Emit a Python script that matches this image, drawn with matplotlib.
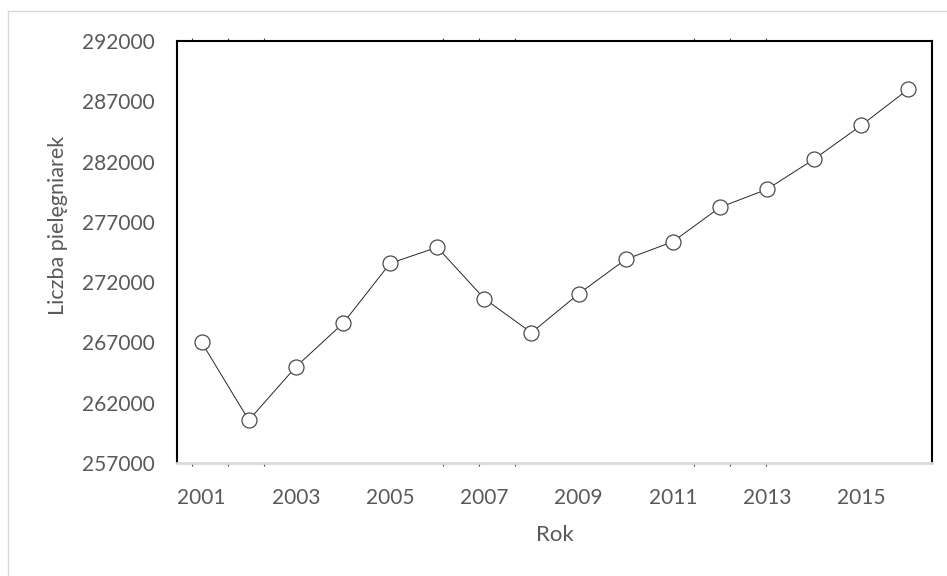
import matplotlib
matplotlib.use("Agg")
import matplotlib.pyplot as plt
from matplotlib.lines import Line2D

years = [2001, 2002, 2003, 2004, 2005, 2006, 2007, 2008,
         2009, 2010, 2011, 2012, 2013, 2014, 2015, 2016]
nurses = [267000, 260550, 264980, 268580, 273560, 274890, 270630, 267810,
          271020, 273890, 275350, 278200, 279700, 282200, 285000, 288000]
xtick_labels = [2001, 2003, 2005, 2007, 2009, 2011, 2013, 2015]
yticks = [257000, 262000, 267000, 272000, 277000, 282000, 287000, 292000]
minor_ticks = [2000.794, 2001.558, 2002.322, 2006.12, 2006.886, 2007.65,
               2011.45, 2012.21, 2012.98]

plt.rcParams['font.family'] = ['Lato', 'DejaVu Sans']
txt = '#595959'

W, H = 947, 576
fig = plt.figure(figsize=(W / 100, H / 100), dpi=100)
ax = fig.add_axes([177 / W, 1 - 463 / H, (932 - 177) / W, (463 - 41) / H])

ax.plot(years, nurses, color='#262626', lw=0.7, marker='o', ms=10.8,
        mfc='white', mec='#4a4a4a', mew=0.9, zorder=3)

ax.set_xlim(2000.476, 2016.503)
ax.set_ylim(257000, 292000)
ax.set_xticks(xtick_labels)
ax.set_xticklabels([str(v) for v in xtick_labels])
ax.set_yticks(yticks)
ax.set_yticklabels([str(v) for v in yticks])
ax.set_xticks(minor_ticks, minor=True)
ax.tick_params(axis='both', which='major', length=0, labelsize=15,
               labelcolor=txt)
ax.tick_params(axis='x', which='major', pad=18)
ax.tick_params(axis='y', which='major', pad=16)
ax.tick_params(axis='x', which='minor', length=2.2, width=0.8, color='#404040',
               direction='out', top=True, bottom=True)

for s in ['left', 'top', 'right']:
    ax.spines[s].set_color('black')
    ax.spines[s].set_linewidth(1.5)
ax.spines['bottom'].set_color('#d9d9d9')
ax.spines['bottom'].set_linewidth(2)

ax.set_xlabel('Rok', fontsize=16, color=txt, labelpad=12)
fig.text(58 / W, 1 - 225 / H, 'Liczba pielęgniarek', rotation=90,
         ha='center', va='center', fontsize=15.5, color=txt)

# outer light frame
fig.add_artist(Line2D([8 / W, 1], [1 - 11 / H, 1 - 11 / H], color='#d9d9d9',
                      lw=1, transform=fig.transFigure))
fig.add_artist(Line2D([8 / W, 8 / W], [0, 1 - 11 / H], color='#d9d9d9',
                      lw=1, transform=fig.transFigure))

fig.savefig('out.png', dpi=100)
